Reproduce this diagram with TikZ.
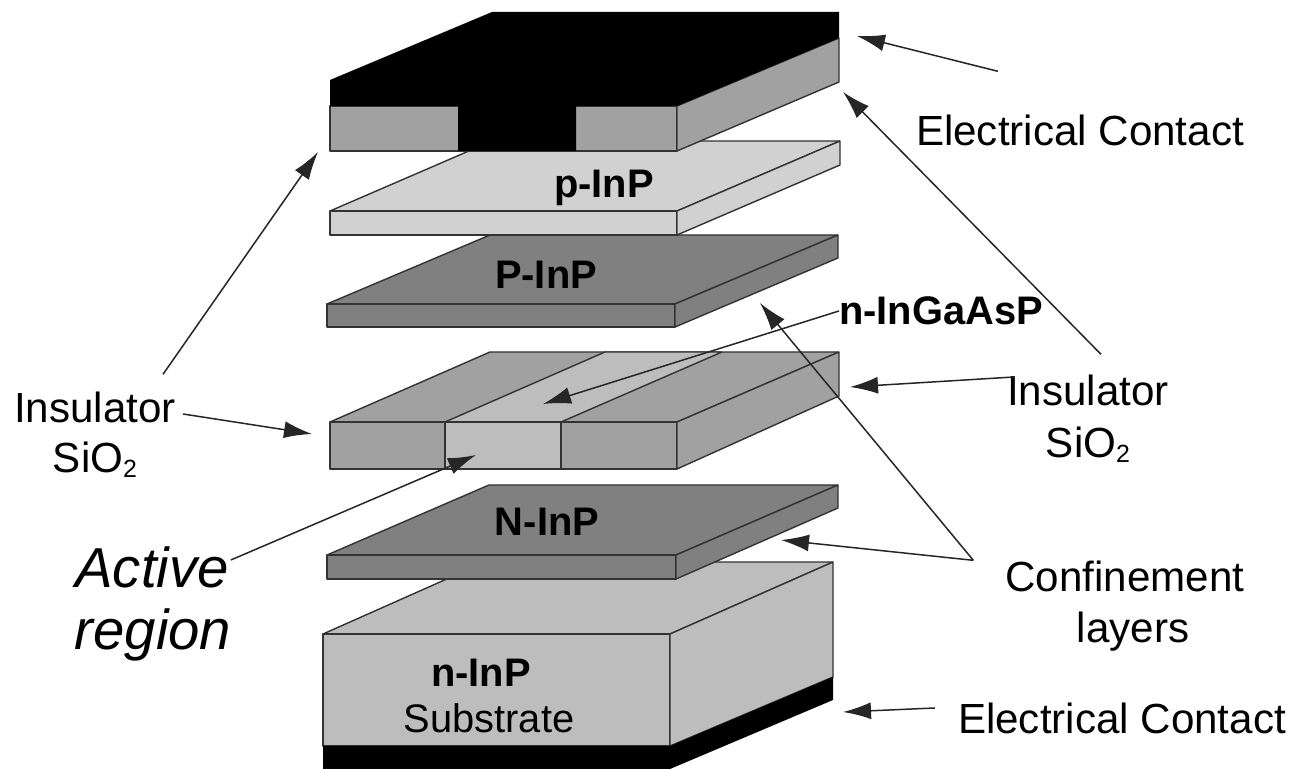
\documentclass[tikz,border=0pt]{standalone}
\usepackage{fontspec}
\setmainfont{Liberation Sans}
\usetikzlibrary{arrows.meta}
\definecolor{metal}{gray}{0}
\definecolor{oxide}{gray}{0.63}
\definecolor{cladlight}{gray}{0.82}
\definecolor{claddark}{gray}{0.5}
\definecolor{bulk}{gray}{0.74}
\newcommand{\subtwo}{\raisebox{-0.12em}{\fontsize{25}{25}\selectfont 2}}
\tikzset{
  face/.style={draw=black!80,line width=1.4bp,line join=bevel},
  lbl/.style={inner sep=0pt,font=\fontsize{42.3}{48}\selectfont},
  lblbold/.style={inner sep=0pt,font=\fontsize{40}{46}\selectfont\bfseries},
  lblit/.style={inner sep=0pt,font=\fontsize{56.5}{64}\selectfont\itshape},
  ptr/.style={->,line width=1.5bp,draw=black!85},
}
\begin{document}
\begin{tikzpicture}[>={Latex[length=28bp,width=17bp]},line join=bevel]
    \useasboundingbox [fill=white] (0bp,0bp) rectangle (1293bp,769bp);
    %% substrate
    \draw [face,fill=bulk] (323bp,135bp) -- (485bp,207bp) -- (833bp,207bp) -- (670bp,135bp) -- cycle;
    \draw [face,fill=bulk] (323bp,135bp) rectangle (670bp,23bp);
    \draw [face,fill=bulk] (670bp,135bp) -- (833bp,207bp) -- (833bp,92bp) -- (670bp,23bp) -- cycle;
    \fill [metal] (323bp,23bp) -- (670bp,23bp) -- (833bp,92bp) -- (833bp,69bp) -- (670bp,0bp) -- (323bp,0bp) -- cycle;
    %% N layer
    \draw [face,fill=claddark] (327bp,214bp) -- (489bp,284bp) -- (838bp,284bp) -- (676bp,214bp) -- cycle;
    \draw [face,fill=claddark] (327bp,214bp) rectangle (676bp,190bp);
    \draw [face,fill=claddark] (676bp,214bp) -- (838bp,284bp) -- (838bp,261bp) -- (676bp,190bp) -- cycle;
    %% active layer
    \draw [face,fill=oxide] (330bp,347bp) -- (490bp,417bp) -- (839bp,417bp) -- (677bp,347bp) -- cycle;
    \draw [face,fill=bulk] (445bp,347bp) -- (605bp,417bp) -- (722bp,417bp) -- (561bp,347bp) -- cycle;
    \draw [face,fill=oxide] (330bp,347bp) rectangle (445bp,300bp);
    \draw [face,fill=bulk] (445bp,347bp) rectangle (561bp,300bp);
    \draw [face,fill=oxide] (561bp,347bp) rectangle (677bp,300bp);
    \draw [face,fill=oxide] (677bp,347bp) -- (839bp,417bp) -- (839bp,373bp) -- (677bp,300bp) -- cycle;
    %% P layer
    \draw [face,fill=claddark] (327bp,465bp) -- (490bp,534bp) -- (838bp,534bp) -- (675bp,465bp) -- cycle;
    \draw [face,fill=claddark] (327bp,465bp) rectangle (675bp,442bp);
    \draw [face,fill=claddark] (675bp,465bp) -- (838bp,534bp) -- (838bp,511bp) -- (675bp,442bp) -- cycle;
    %% p layer
    \draw [face,fill=cladlight] (330bp,558bp) -- (492bp,628bp) -- (840bp,628bp) -- (677bp,558bp) -- cycle;
    \draw [face,fill=cladlight] (330bp,558bp) rectangle (677bp,534bp);
    \draw [face,fill=cladlight] (677bp,558bp) -- (840bp,628bp) -- (840bp,604bp) -- (677bp,534bp) -- cycle;
    %% contact with insulator
    \draw [face,fill=oxide] (330bp,663bp) rectangle (677bp,618bp);
    \draw [face,fill=oxide] (677bp,663bp) -- (839bp,731bp) -- (839bp,687bp) -- (677bp,618bp) -- cycle;
    \fill [metal] (330bp,663bp) -- (330bp,689bp) -- (492bp,757bp) -- (839bp,757bp) -- (839bp,731bp) -- (677bp,663bp)
        -- (576bp,663bp) -- (576bp,618bp) -- (458bp,618bp) -- (458bp,663bp) -- cycle;
    %% texts
    \node (pInP) at (604bp,581bp) [lblbold] {p-InP};
    \node (PInP) at (546bp,494bp) [lblbold] {P-InP};
    \node (NInP) at (547bp,247bp) [lblbold] {N-InP};
    \node (nInP) at (481bp,96bp) [lblbold] {n-InP};
    \node (substrate) at (489bp,51bp) [lbl,font=\fontsize{40}{46}\selectfont] {Substrate};
    \node (nGaAs) at (941bp,458bp) [lblbold] {n-InGaAsP};
    \node (contactTop) at (1080bp,639bp) [lbl] {Electrical Contact};
    \node (contactBot) at (1122bp,51bp) [lbl] {Electrical Contact};
    \node (insLeft) at (95bp,362bp) [lbl] {Insulator};
    \node (sioLeft) at (95bp,309bp) [lbl] {SiO\subtwo};
    \node (insRight) at (1088bp,379bp) [lbl] {Insulator};
    \node (sioRight) at (1088bp,324bp) [lbl] {SiO\subtwo};
    \node (confine) at (1125bp,193bp) [lbl] {Confinement};
    \node (layers) at (1133bp,137bp) [lbl] {layers};
    \node (active) at (152bp,202bp) [lblit] {Active};
    \node (region) at (153bp,134bp) [lblit] {region};
    %% tips
    \coordinate (tipMetal) at (857bp,733bp);
    \coordinate (tipOxideTop) at (843bp,677bp);
    \coordinate (tipOxideLeft) at (318bp,617bp);
    \coordinate (tipMidLeft) at (312bp,335bp);
    \coordinate (tipMidRight) at (850bp,382bp);
    \coordinate (tipStripe) at (543bp,365bp);
    \coordinate (tipCore) at (476bp,314bp);
    \coordinate (tipP) at (760bp,466bp);
    \coordinate (tipN) at (781bp,229bp);
    \coordinate (tipBack) at (843bp,57bp);
    %% arrows
    \draw [ptr] ([xshift=-82bp,yshift=43bp]contactTop.north) -- (tipMetal);
    \draw [ptr] ([xshift=13bp,yshift=20bp]insRight.north) -- (tipOxideTop);
    \draw [ptr] ([xshift=68bp,yshift=17bp]insLeft.north) -- (tipOxideLeft);
    \draw [ptr] ([xshift=7bp,yshift=-7bp]insLeft.east) -- (tipMidLeft);
    \draw [ptr] ([xshift=7bp,yshift=13bp]insRight.west) -- (tipMidRight);
    \draw [ptr] (nGaAs.west) -- (tipStripe);
    \draw [ptr] ([xshift=2bp,yshift=7bp]active.east) -- (tipCore);
    \draw [ptr] ([xshift=-32bp]confine.north west) -- (tipP);
    \draw [ptr] ([xshift=-32bp]confine.north west) -- (tipN);
    \draw [ptr] ([xshift=-23bp,yshift=10bp]contactBot.west) -- (tipBack);
    %
\end{tikzpicture}
\end{document}
